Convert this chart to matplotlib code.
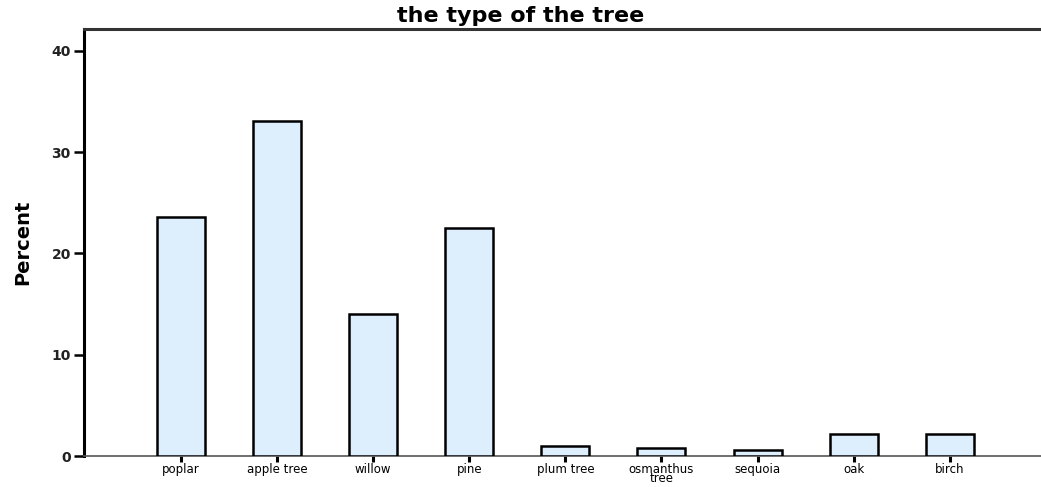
import matplotlib
matplotlib.use("Agg")
import matplotlib.pyplot as plt
import numpy as np

# tree types and their percentages
trees = ["poplar", "apple tree", "willow", "pine", "plum tree",
         "osmanthus\ntree", "sequoia", "oak", "birch"]
percent = [23.6, 33.1, 14.0, 22.5, 1.0, 0.8, 0.6, 2.2, 2.2]
yticks = [0, 10, 20, 30, 40]

fig = plt.figure(figsize=(10.41, 4.87), dpi=100)
ax = fig.add_axes([0.0807, 0.0636, 0.9193, 0.8769])

x = np.arange(len(trees))
ax.bar(x, percent, width=0.5, color="#ddeffd", edgecolor="black", linewidth=1.8, zorder=3)

ax.set_xlim(-1.01, 8.95)
ax.set_ylim(0, 42.16)
ax.set_yticks(yticks)
ax.set_xticks(x)
ax.set_xticklabels(trees, fontsize=8.5, linespacing=0.62)
ax.tick_params(axis="y", direction="out", length=7.5, width=1.8, labelsize=10, pad=2)
ax.tick_params(axis="x", direction="out", length=4.5, width=2.2, pad=0.5)
for lab in ax.get_yticklabels():
    lab.set_fontweight("bold")
    lab.set_color("#222222")

ax.spines["right"].set_visible(False)
ax.spines["left"].set_linewidth(2.2)
ax.spines["left"].set_color("black")
ax.spines["top"].set_linewidth(2.2)
ax.spines["top"].set_color("#333333")
ax.spines["bottom"].set_linewidth(1.2)
ax.spines["bottom"].set_color("#555555")

ax.set_ylabel("Percent", fontsize=14, fontweight="bold", labelpad=14)
fig.suptitle("the type of the tree", fontsize=16, fontweight="bold", x=0.5, y=0.988)

fig.savefig("out.png", dpi=100)
